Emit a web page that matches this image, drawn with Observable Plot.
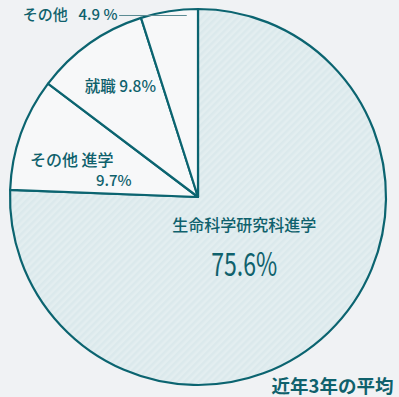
<!DOCTYPE html>
<html><head><meta charset="utf-8">
<script src="https://cdn.jsdelivr.net/npm/d3@7"></script>
<script src="https://cdn.jsdelivr.net/npm/@observablehq/plot@0.6"></script>
<style>
html,body{margin:0;padding:0;background:#f0f2f4;}
#chart{width:399px;height:397px;}
</style>
</head><body><div id="chart"></div>
<script>
// ---- data ----
const categories = ["生命科学研究科進学", "その他 進学", "就職", "その他"];
const values = [75.6, 9.7, 9.8, 4.9];
const valueLabels = ["75.6%", "9.7%", "9.8%", "4.9 %"];
const note = "近年3年の平均";

const rows = categories.map((c, i) => ({category: c, value: values[i], label: valueLabels[i]}));
const arcs = d3.pie().sort(null).value(d => d.value).startAngle(0).endAngle(2 * Math.PI)(rows);
// point in data units (unit circle, y up) at angle a (clockwise from top) and radius fraction f
const polar = (a, f) => ({x: f * Math.sin(a), y: f * Math.cos(a)});
const mid = a => (a.startAngle + a.endAngle) / 2;

const teal = "#0f616c";
const stroke = "#0b6470";
const font = "'Noto Sans CJK JP', 'Noto Sans', sans-serif";

function pieMark(index, scales) {
  const cx = scales.x(0), cy = scales.y(0), r = scales.x(1) - scales.x(0);
  const g = d3.create("svg:g");
  const defs = g.append("defs");
  const p = defs.append("pattern").attr("id", "stripes").attr("patternUnits", "userSpaceOnUse")
    .attr("width", 5).attr("height", 5).attr("patternTransform", "rotate(45)");
  p.append("rect").attr("width", 5).attr("height", 5).attr("fill", "#e3eef0");
  p.append("rect").attr("width", 2.5).attr("height", 5).attr("fill", "#dbe9ec");
  const arc = d3.arc().innerRadius(0).outerRadius(r);
  g.attr("transform", `translate(${cx},${cy})`)
    .selectAll("path").data(arcs).join("path")
    .attr("d", arc)
    .attr("fill", (d, i) => i === 0 ? "url(#stripes)" : "#f7f8f9")
    .attr("stroke", stroke).attr("stroke-width", 2.2).attr("stroke-linejoin", "round");
  return g.node();
}

const big = polar(mid(arcs[0]), 0.35);
const other = polar(mid(arcs[1]), 0.62);
const job = polar(mid(arcs[2]), 0.72);
const misc = arcs[3];
const miscPt = polar(misc.startAngle + 0.8 * (misc.endAngle - misc.startAngle), 0.97);

const chart = Plot.plot({
  width: 399, height: 397, margin: 0,
  x: {domain: [-1, 1], range: [10, 386], axis: null},
  y: {domain: [-1, 1], range: [385, 9], axis: null},
  style: {background: "#f0f2f4", fontFamily: font},
  marks: [
    pieMark,
    Plot.text([rows[0]], {x: () => big.x, y: () => big.y, text: "category", dy: -19, fontSize: 16, fontWeight: 500, fill: teal}),
    Plot.text([rows[0]], {x: () => big.x, y: () => big.y, text: "label", dy: 21, fontSize: 32, fill: teal}),
    Plot.text([rows[1]], {x: () => other.x, y: () => other.y, text: "category", dx: -17, dy: 3, fontSize: 16, fontWeight: 500, fill: teal}),
    Plot.text([rows[1]], {x: () => other.x, y: () => other.y, text: "label", dx: 25, dy: 23, fontSize: 15, fontWeight: 500, fill: teal}),
    Plot.text([rows[2]], {x: () => job.x, y: () => job.y, text: d => `${d.category} ${d.label}`, fontSize: 15.5, fontWeight: 500, fill: teal}),
    Plot.ruleY([miscPt.y], {x1: miscPt.x - 0.36, x2: miscPt.x, stroke: "#5a8a92", strokeWidth: 1}),
    Plot.text([rows[3]], {x: () => miscPt.x - 0.36, y: () => miscPt.y, text: d => `${d.category}\u2002 ${d.label}`, textAnchor: "end", dx: -2, fontSize: 15, fontWeight: 500, fill: teal}),
    Plot.text([note], {frameAnchor: "bottom-right", dx: -6, dy: -5, fontSize: 18.5, fontWeight: 700, fill: teal})
  ]
});
d3.select(chart).selectAll("text").filter(function() { return this.textContent === "75.6%"; })
  .attr("textLength", 66).attr("lengthAdjust", "spacingAndGlyphs");
document.getElementById("chart").appendChild(chart);
</script>
</body></html>
